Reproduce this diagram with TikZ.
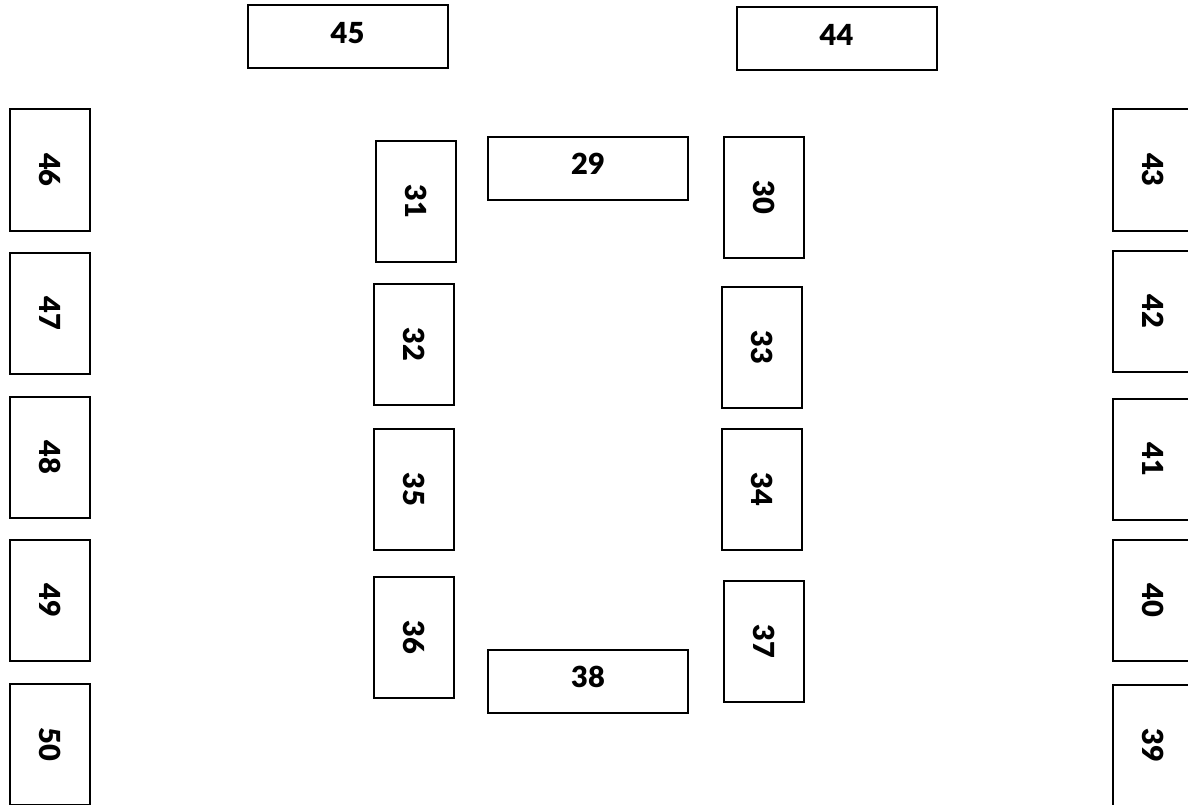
\documentclass[tikz,border=0pt]{standalone}
\usepackage{fontspec}
\setmainfont{Lato}[BoldFont={Lato Black}]
\tikzset{
    desk/.style={draw, line width=2pt, inner sep=0pt,
        font=\fontsize{29}{31}\selectfont\bfseries},
    deskh/.style={desk, minimum width=200pt, minimum height=63pt, text depth=9pt},
    deskv/.style={desk, rotate=-90, minimum width=121pt, minimum height=80pt}
}
\begin{document}
\begin{tikzpicture}[x=1pt, y=1pt]
        \useasboundingbox (0, 0) rectangle (1188, -805);
        \clip (0, 0) rectangle (1188, -805);
        \begin{scope}[]
        % Front desks
        \node[deskh] (d45) at (347.5, -37) {45};
        \node[deskh] (d44) at (836.5, -39) {44};

        % Left wall
        \foreach \num [count=\i from 0] in {46,...,50}
        {
            \node[deskv] (d\num) at (50, -170-143.5*\i) {\num};
        }

        % Right wall
        \foreach \num/\ypos in {43/170, 42/311, 41/459.5, 40/600, 39/745}
        {
            \node[deskv] (d\num) at (1153, -\ypos) {\num};
        }

        % Centre block
        \node[deskh] (d29) at (588, -168.5) {29};
        \node[deskv] (d31) at (416, -201.5) {31};
        \node[deskv] (d30) at (764, -197.5) {30};
        \node[deskv] (d32) at (414, -344.5) {32};
        \node[deskv] (d33) at (762, -347.5) {33};
        \node[deskv] (d35) at (414, -489.5) {35};
        \node[deskv] (d34) at (762, -489.5) {34};
        \node[deskv] (d36) at (414, -637) {36};
        \node[deskv] (d37) at (764, -641.5) {37};
        \node[deskh] (d38) at (588, -681.5) {38};
        \end{scope}
\end{tikzpicture}
\end{document}
